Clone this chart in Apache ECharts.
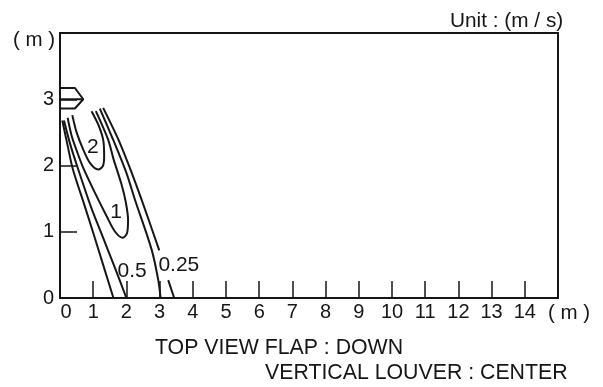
<!DOCTYPE html>
<html><head><meta charset="utf-8">
<style>html,body{margin:0;padding:0;background:#fff}#c{width:603px;height:387px}</style>
<script src="https://cdn.jsdelivr.net/npm/echarts@6/dist/echarts.min.js"></script></head>
<body><div id="c"></div>
<script>
const xTicks = [0,1,2,3,4,5,6,7,8,9,10,11,12,13,14,15];
const yTicks = [0,1,2,3,4];
const left025 = [[0.07,2.68],[0.23,2.3],[0.39,1.94],[0.75,1.38],[0.99,1.0],[1.3,0.5],[1.61,0]];
const left05 = [[0.12,2.68],[0.32,2.3],[0.55,1.94],[0.93,1.38],[1.25,0.97],[1.62,0.5],[2.0,0]];
const contour1 = [[0.23,2.72],[0.35,2.45],[0.52,2.2],[0.72,1.94],[1.05,1.59],[1.41,1.23],[1.66,1.0],[1.89,0.91],[2.02,0.98],[2.05,1.18],[1.98,1.45],[1.85,1.72],[1.61,2.1],[1.45,2.39],[1.08,2.82]];
const contour2 = [[0.37,2.76],[0.5,2.5],[0.7,2.24],[0.9,2.04],[1.15,1.94],[1.29,1.99],[1.33,2.14],[1.3,2.39],[1.15,2.62],[0.95,2.82]];
const right05 = [[1.2,2.86],[1.6,2.39],[2.0,1.89],[2.26,1.48],[2.76,0.73],[2.96,0.27],[3.03,0]];
const right025 = [[1.3,2.87],[1.76,2.39],[2.16,1.89],[2.46,1.48],[2.99,0.72],null,[3.26,0.27],[3.44,0]];
const nozzleOutline = [[0,3.17],[0.45,3.17],[0.7,3.0],[0.45,2.86],[0,2.86]];
const nozzleCentre = [[0,3.0],[0.7,3.0]];
const curveLabels = [
  {name:'2', at:[0.99,2.27]}, {name:'1', at:[1.69,1.3]},
  {name:'0.5', at:[2.17,0.41]}, {name:'0.25', at:[3.58,0.5]}
];
const curves = [left025,left05,contour1,contour2,right05,right025];
const unitText = 'Unit : (m / s)';
const footLine1 = 'TOP VIEW FLAP : DOWN';
const footLine2 = 'VERTICAL LOUVER : CENTER';
const axisUnit = '( m )';

const font = '"Liberation Sans", Arial, sans-serif';
const ink = '#161616';
const chart = echarts.init(document.getElementById('c'), null, {renderer:'canvas'});
const lineSeries = (d, w, smooth) => ({
  type:'line', data:d.map(p=>p===null?[null,null]:p), smooth:smooth, showSymbol:false, symbol:'none',
  connectNulls:false, silent:true, lineStyle:{color:ink,width:w}, animation:false, clip:false
});
const txt = (left, top, text, size) => ({type:'text', left, top, style:{text, font:size+'px '+font, fill:ink}});
chart.setOption({
  animation:false, backgroundColor:'#fff',
  grid:{left:60, right:45, top:33, bottom:89, show:true, borderColor:ink, borderWidth:2, backgroundColor:'transparent'},
  xAxis:{type:'value', min:0, max:15, interval:1, splitLine:{show:false},
    axisLine:{show:true, onZero:false, lineStyle:{color:ink,width:2}},
    axisTick:{show:true, inside:true, length:17, lineStyle:{color:ink,width:1.5}},
    axisLabel:{margin:4, fontFamily:font, fontSize:20, color:ink,
      formatter:v=> v===0 ? '{z|0}' : (v===15 ? '' : xTicks[v]+''),
      rich:{z:{padding:[0,0,0,12], fontFamily:font, fontSize:20, color:ink}}}},
  yAxis:{type:'value', min:0, max:4, interval:1, splitLine:{show:false},
    axisLine:{show:true, onZero:false, lineStyle:{color:ink,width:2}},
    axisTick:{show:true, inside:true, length:17, lineStyle:{color:ink,width:1.5}},
    axisLabel:{margin:6, fontFamily:font, fontSize:20, color:ink, verticalAlign:'middle',
      formatter:v=> v===4 ? '' : yTicks[v]+''}},
  series:[
    ...curves.map(c=>lineSeries(c,2,0.3)),
    lineSeries(nozzleOutline,2,false),
    lineSeries(nozzleCentre,2,false),
    {type:'scatter', symbolSize:0, silent:true, itemStyle:{opacity:1}, data:curveLabels.map(l=>({name:l.name,value:l.at})),
     label:{show:true, position:'inside', formatter:'{b}', fontFamily:font, fontSize:21, color:ink}}
  ],
  graphic:[
    txt(450,11,unitText,20.8), txt(13,30,axisUnit,20.5), txt(548,303,axisUnit,20.5),
    txt(155,338,footLine1,21.3), txt(265,363,footLine2,21.3)
  ]
});
</script></body></html>
